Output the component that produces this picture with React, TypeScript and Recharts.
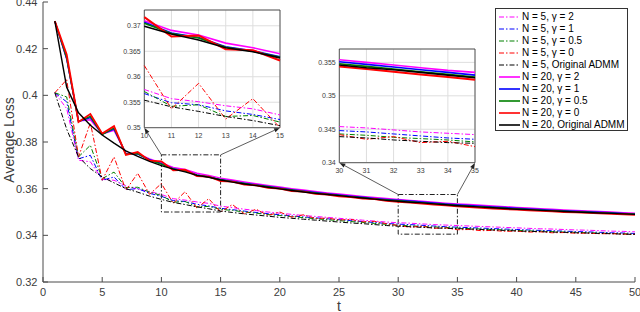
import React from "react";
import {
  LineChart,
  Line,
  XAxis,
  YAxis,
  CartesianGrid,
  ReferenceArea,
  ReferenceLine,
} from "recharts";

// iterations
const t = [
  1, 2, 3, 4, 5, 6, 7, 8, 9, 10, 11, 12, 13, 14, 15, 16, 17, 18, 19, 20, 21, 22, 23, 24, 25,
  26, 27, 28, 29, 30, 31, 32, 33, 34, 35, 36, 37, 38, 39, 40, 41, 42, 43, 44, 45, 46, 47, 48, 49, 50,
];

// N = 5 (dash-dot)
const n5g2 = [
  0.4011, 0.3943, 0.3722, 0.3715, 0.364, 0.3636, 0.3612, 0.3598, 0.3588, 0.3575,
  0.3557, 0.3551, 0.3543, 0.3537, 0.3525, 0.3519, 0.3512, 0.3506, 0.35, 0.3495,
  0.349, 0.3485, 0.3481, 0.3477, 0.3473, 0.3469, 0.3465, 0.3461, 0.3457, 0.3454,
  0.3452, 0.3449, 0.3446, 0.3444, 0.3442, 0.344, 0.3438, 0.3436, 0.3434, 0.3432,
  0.343, 0.3428, 0.3427, 0.3425, 0.3423, 0.3422, 0.342, 0.3418, 0.3417, 0.3415,
];
const n5g1 = [
  0.4011, 0.3972, 0.3728, 0.3743, 0.3636, 0.365, 0.3596, 0.36, 0.358, 0.3567,
  0.3549, 0.3545, 0.3533, 0.3526, 0.3516, 0.351, 0.3504, 0.3498, 0.3493, 0.3488,
  0.3483, 0.3479, 0.3475, 0.3471, 0.3467, 0.3463, 0.3459, 0.3455, 0.3451, 0.3448,
  0.3446, 0.3443, 0.344, 0.3437, 0.3435, 0.3433, 0.3431, 0.3429, 0.3427, 0.3425,
  0.3423, 0.3421, 0.342, 0.3418, 0.3416, 0.3415, 0.3413, 0.3411, 0.341, 0.3408,
];
const n5g05 = [
  0.4011, 0.3993, 0.3736, 0.3786, 0.3643, 0.3671, 0.3605, 0.3606, 0.3585, 0.3571,
  0.3542, 0.3545, 0.3522, 0.3524, 0.3511, 0.3507, 0.35, 0.3495, 0.3489, 0.3485,
  0.348, 0.3476, 0.3471, 0.3467, 0.3463, 0.3459, 0.3455, 0.3451, 0.3447, 0.3443,
  0.3441, 0.3438, 0.3436, 0.3434, 0.3431, 0.3429, 0.3427, 0.3425, 0.3423, 0.3421,
  0.3419, 0.3418, 0.3416, 0.3414, 0.3413, 0.3411, 0.341, 0.3408, 0.3407, 0.3405,
];
const n5g0 = [
  0.4011, 0.4067, 0.3736, 0.3882, 0.3636, 0.3736, 0.3594, 0.3666, 0.3576, 0.3622,
  0.3537, 0.3587, 0.3517, 0.3557, 0.35, 0.3532, 0.3492, 0.3512, 0.3485, 0.35,
  0.3478, 0.3488, 0.3472, 0.3474, 0.3466, 0.3468, 0.3458, 0.346, 0.345, 0.3442,
  0.3435, 0.3439, 0.343, 0.3432, 0.3424, 0.3425, 0.342, 0.3421, 0.3417, 0.3418,
  0.3414, 0.3415, 0.3411, 0.3412, 0.3409, 0.3409, 0.3407, 0.3407, 0.3405, 0.3404,
];
const n5adm = [
  0.4011, 0.3855, 0.3736, 0.3686, 0.365, 0.3625, 0.36, 0.3585, 0.3568, 0.3554,
  0.3541, 0.3532, 0.3522, 0.3514, 0.3504, 0.3498, 0.3492, 0.3487, 0.3482, 0.3477,
  0.3473, 0.3469, 0.3465, 0.3461, 0.3457, 0.3453, 0.345, 0.3446, 0.3442, 0.3439,
  0.3437, 0.3434, 0.3432, 0.343, 0.3429, 0.3427, 0.3425, 0.3423, 0.3421, 0.3419,
  0.3417, 0.3416, 0.3414, 0.3413, 0.3411, 0.341, 0.3408, 0.3407, 0.3405, 0.3404,
];

// N = 20 (solid)
const n20g2 = [
  0.4318, 0.4155, 0.389, 0.3895, 0.3835, 0.385, 0.3752, 0.375, 0.3728, 0.371,
  0.3691, 0.3682, 0.3666, 0.3657, 0.3645, 0.3637, 0.3629, 0.3621, 0.3614, 0.3607,
  0.36, 0.3594, 0.3588, 0.3582, 0.3577, 0.3572, 0.3567, 0.3562, 0.3558, 0.3554,
  0.355, 0.3546, 0.3542, 0.3538, 0.3535, 0.3532, 0.3529, 0.3526, 0.3523, 0.352,
  0.3517, 0.3514, 0.3512, 0.3509, 0.3507, 0.3504, 0.3502, 0.35, 0.3497, 0.3495,
];
const n20g1 = [
  0.4318, 0.4158, 0.3888, 0.3905, 0.3834, 0.3855, 0.375, 0.3748, 0.3724, 0.3707,
  0.3686, 0.3677, 0.3659, 0.3651, 0.3639, 0.3632, 0.3624, 0.3617, 0.361, 0.3603,
  0.3596, 0.359, 0.3584, 0.3578, 0.3573, 0.3568, 0.3563, 0.3558, 0.3554, 0.3551,
  0.3547, 0.3543, 0.3539, 0.3535, 0.3531, 0.3528, 0.3525, 0.3522, 0.3519, 0.3516,
  0.3513, 0.3511, 0.3508, 0.3506, 0.3503, 0.3501, 0.3499, 0.3497, 0.3494, 0.3492,
];
const n20g05 = [
  0.4318, 0.416, 0.3888, 0.391, 0.3832, 0.386, 0.3748, 0.375, 0.3722, 0.3705,
  0.3685, 0.3676, 0.3658, 0.365, 0.3638, 0.363, 0.3622, 0.3615, 0.3608, 0.3601,
  0.3594, 0.3588, 0.3582, 0.3576, 0.3571, 0.3566, 0.3561, 0.3556, 0.3552, 0.3548,
  0.3544, 0.354, 0.3536, 0.3532, 0.3528, 0.3525, 0.3522, 0.3519, 0.3516, 0.3513,
  0.3511, 0.3508, 0.3506, 0.3503, 0.3501, 0.3499, 0.3497, 0.3495, 0.3493, 0.3491,
];
const n20g0 = [
  0.4318, 0.4175, 0.3886, 0.392, 0.3836, 0.3868, 0.3745, 0.3757, 0.372, 0.3717,
  0.3679, 0.3681, 0.3654, 0.3652, 0.3632, 0.363, 0.3617, 0.3614, 0.3603, 0.36,
  0.359, 0.3587, 0.3578, 0.3575, 0.3567, 0.3564, 0.3557, 0.3555, 0.3548, 0.3544,
  0.354, 0.3536, 0.3532, 0.3528, 0.3524, 0.3521, 0.3518, 0.3515, 0.3512, 0.351,
  0.3507, 0.3505, 0.3503, 0.35, 0.3498, 0.3496, 0.3494, 0.3492, 0.349, 0.3488,
];
const n20adm = [
  0.4318, 0.4035, 0.3925, 0.3872, 0.383, 0.3795, 0.3762, 0.3738, 0.3717, 0.3699,
  0.3684, 0.3672, 0.3657, 0.3649, 0.3637, 0.3628, 0.362, 0.3613, 0.3606, 0.3599,
  0.3592, 0.3586, 0.358, 0.3575, 0.357, 0.3565, 0.356, 0.3555, 0.355, 0.3546,
  0.3542, 0.3539, 0.3535, 0.3531, 0.3527, 0.3524, 0.3521, 0.3518, 0.3515, 0.3512,
  0.351, 0.3507, 0.3505, 0.3502, 0.35, 0.3498, 0.3496, 0.3494, 0.3492, 0.349,
];

const xTicks = [0, 5, 10, 15, 20, 25, 30, 35, 40, 45, 50];
const yTicks = [0.32, 0.34, 0.36, 0.38, 0.4, 0.42, 0.44];
const zoom1XTicks = [10, 11, 12, 13, 14, 15];
const zoom1YTicks = [0.35, 0.355, 0.36, 0.365, 0.37];
const zoom2XTicks = [30, 31, 32, 33, 34, 35];
const zoom2YTicks = [0.34, 0.345, 0.35, 0.355];

const DASHDOT = "5 2 1.5 2";
const FONT = "'Liberation Sans', Arial, Helvetica, sans-serif";
const AXIS = "#4a4a4a";
const TXT = "#3c3c3c";

const series = [
  { key: "n5g2", name: "N = 5, \u03b3 = 2", color: "#ff00ff", dashed: true, values: n5g2 },
  { key: "n5g1", name: "N = 5, \u03b3 = 1", color: "#0000ff", dashed: true, values: n5g1 },
  { key: "n5g05", name: "N = 5, \u03b3 = 0.5", color: "#008000", dashed: true, values: n5g05 },
  { key: "n5g0", name: "N = 5, \u03b3 = 0", color: "#ff0000", dashed: true, values: n5g0 },
  { key: "n5adm", name: "N = 5, Original ADMM", color: "#000000", dashed: true, values: n5adm },
  { key: "n20g2", name: "N = 20, \u03b3 = 2", color: "#ff00ff", dashed: false, values: n20g2 },
  { key: "n20g1", name: "N = 20, \u03b3 = 1", color: "#0000ff", dashed: false, values: n20g1 },
  { key: "n20g05", name: "N = 20, \u03b3 = 0.5", color: "#008000", dashed: false, values: n20g05 },
  { key: "n20g0", name: "N = 20, \u03b3 = 0", color: "#ff0000", dashed: false, values: n20g0 },
  { key: "n20adm", name: "N = 20, Original ADMM", color: "#000000", dashed: false, values: n20adm },
];

const rows = t.map((tv, i) => {
  const r: Record<string, number> = { t: tv };
  series.forEach((s) => {
    r[s.key] = s.values[i];
  });
  return r;
});

const zoom1Rows = rows.filter((r) => r.t >= 10 && r.t <= 15);
const zoom2Rows = rows.filter((r) => r.t >= 30 && r.t <= 35);

// arrow from zoom box corner to inset corner
const Arrow = (p: any) => {
  const { x1, y1, x2, y2 } = p;
  const a = Math.atan2(y2 - y1, x2 - x1);
  const L = 6;
  const W = 2.2;
  const bx = x2 - L * Math.cos(a);
  const by = y2 - L * Math.sin(a);
  const pts = `${x2},${y2} ${bx + W * Math.sin(a)},${by - W * Math.cos(a)} ${bx - W * Math.sin(a)},${by + W * Math.cos(a)}`;
  return (
    <g>
      <line x1={x1} y1={y1} x2={bx} y2={by} stroke="#333" strokeWidth={0.8} />
      <polygon points={pts} fill="#222" />
    </g>
  );
};

const YTitle = (props: any) => {
  const vb = props.viewBox;
  const cx = vb.x + 1;
  const cy = vb.y + vb.height / 2 - 2;
  return (
    <text
      x={cx}
      y={cy}
      transform={`rotate(-90 ${cx} ${cy})`}
      textAnchor="middle"
      dominantBaseline="central"
      fill={TXT}
      fontSize={14}
      fontFamily={FONT}
    >
      Average Loss
    </text>
  );
};

const XTitle = (props: any) => {
  const vb = props.viewBox;
  return (
    <text
      x={vb.x + vb.width / 2}
      y={vb.y + 28.5}
      textAnchor="middle"
      fill={TXT}
      fontSize={14}
      fontFamily={FONT}
    >
      t
    </text>
  );
};

function renderLines(solidWidth: number) {
  return series.map((s) => (
    <Line
      key={s.key}
      type="linear"
      dataKey={s.key}
      stroke={s.color}
      strokeWidth={s.dashed ? 1 : s.key === "n20g0" ? solidWidth + 0.4 : solidWidth}
      strokeDasharray={s.dashed ? DASHDOT : undefined}
      dot={false}
      activeDot={false}
      isAnimationActive={false}
    />
  ));
}

function Inset(props: {
  data: Record<string, number>[];
  xTicks: number[];
  yTicks: number[];
  yMax: number;
  left: number;
  top: number;
  height: number;
  xAxisHeight: number;
}) {
  const { data, xTicks: xt, yTicks: yt, yMax } = props;
  const tickStyle = { fontSize: 7, fill: TXT, fontFamily: FONT };
  return (
    <div style={{ position: "absolute", left: props.left, top: props.top }}>
      <LineChart width={192} height={props.height} data={data} margin={{ top: 5, right: 12, left: 0, bottom: 0 }}>
        <CartesianGrid stroke="#dedede" fill="#ffffff" fillOpacity={1} />
        <XAxis
          dataKey="t"
          type="number"
          domain={[xt[0], xt[xt.length - 1]]}
          ticks={xt}
          interval={0}
          height={props.xAxisHeight}
          axisLine={false}
          tickLine={false}
          tickSize={0}
          tickMargin={5}
          tick={tickStyle}
        />
        <YAxis
          type="number"
          domain={[yt[0], yMax]}
          ticks={yt}
          interval={0}
          width={44.3}
          axisLine={false}
          tickLine={false}
          tickSize={0}
          tickMargin={3.6}
          tick={tickStyle}
          tickFormatter={(v: number) => String(v)}
        />
        {renderLines(1.6)}
        <ReferenceArea
          x1={xt[0]}
          x2={xt[xt.length - 1]}
          y1={yt[0]}
          y2={yMax}
          fill="none"
          fillOpacity={0}
          stroke="#333"
          strokeWidth={0.8}
        />
      </LineChart>
    </div>
  );
}

function Legend() {
  return (
    <div
      style={{
        position: "absolute",
        left: 495,
        top: 8,
        width: 133,
        height: 123,
        boxSizing: "border-box",
        border: "1px solid #333",
        background: "#fff",
        paddingTop: 2.3,
        fontFamily: FONT,
        fontSize: 10,
        color: "#000",
      }}
    >
      {series.map((s) => (
        <div key={s.key} style={{ display: "flex", alignItems: "center", height: 12, lineHeight: "12px" }}>
          <svg width={26} height={12} style={{ display: "block" }}>
            <line
              x1={3}
              y1={6}
              x2={24}
              y2={6}
              stroke={s.color}
              strokeWidth={s.dashed ? 1 : 1.6}
              strokeDasharray={s.dashed ? DASHDOT : undefined}
            />
          </svg>
          <span style={{ whiteSpace: "nowrap" }}>{s.name}</span>
        </div>
      ))}
    </div>
  );
}

export default function App() {
  const tickStyle = { fontSize: 11, fill: TXT, fontFamily: FONT };
  return (
    <div style={{ position: "absolute", left: 0, top: 0, width: 640, height: 312, background: "#fff" }}>
      <LineChart width={640} height={312} data={rows} margin={{ top: 2, right: 5, left: 8, bottom: 8 }}>
        <XAxis
          dataKey="t"
          type="number"
          domain={[0, 50]}
          ticks={xTicks}
          interval={0}
          height={22}
          stroke={AXIS}
          tickSize={-5}
          tickMargin={11}
          tick={tickStyle}
          label={<XTitle />}
        />
        <XAxis
          xAxisId="top"
          orientation="top"
          type="number"
          domain={[0, 50]}
          ticks={xTicks}
          interval={0}
          height={0}
          stroke={AXIS}
          tickSize={-5}
          tick={() => <g />}
        />
        <YAxis
          type="number"
          domain={[0.32, 0.44]}
          ticks={yTicks}
          interval={0}
          width={35}
          stroke={AXIS}
          tickSize={-5}
          tickMargin={10.5}
          tick={tickStyle}
          tickFormatter={(v: number) => String(v)}
          label={<YTitle />}
        />
        <YAxis
          yAxisId="right"
          orientation="right"
          type="number"
          domain={[0.32, 0.44]}
          ticks={yTicks}
          interval={0}
          width={0}
          stroke={AXIS}
          tickSize={-5}
          tick={() => <g />}
        />
        {renderLines(1.4)}
        <ReferenceArea
          x1={10}
          x2={15}
          y1={0.35}
          y2={0.3745}
          fill="none"
          fillOpacity={0}
          stroke="#222"
          strokeWidth={1}
          strokeDasharray={DASHDOT}
        />
        <ReferenceArea
          x1={30}
          x2={35}
          y1={0.3405}
          y2={0.3575}
          fill="none"
          fillOpacity={0}
          stroke="#222"
          strokeWidth={1}
          strokeDasharray={DASHDOT}
        />
        <ReferenceLine segment={[{ x: 10, y: 0.3745 }, { x: 8.56, y: 0.3861 }]} shape={Arrow} />
        <ReferenceLine segment={[{ x: 15, y: 0.3745 }, { x: 20.02, y: 0.3861 }]} shape={Arrow} />
        <ReferenceLine segment={[{ x: 30, y: 0.3575 }, { x: 25.03, y: 0.3711 }]} shape={Arrow} />
        <ReferenceLine segment={[{ x: 35, y: 0.3575 }, { x: 36.49, y: 0.3711 }]} shape={Arrow} />
      </LineChart>
      <Inset data={zoom1Rows} xTicks={zoom1XTicks} yTicks={zoom1YTicks} yMax={0.3731} left={100} top={5} height={145} xAxisHeight={22.3} />
      <Inset data={zoom2Rows} xTicks={zoom2XTicks} yTicks={zoom2YTicks} yMax={0.357} left={295} top={44} height={140} xAxisHeight={21.3} />
      <Legend />
    </div>
  );
}
